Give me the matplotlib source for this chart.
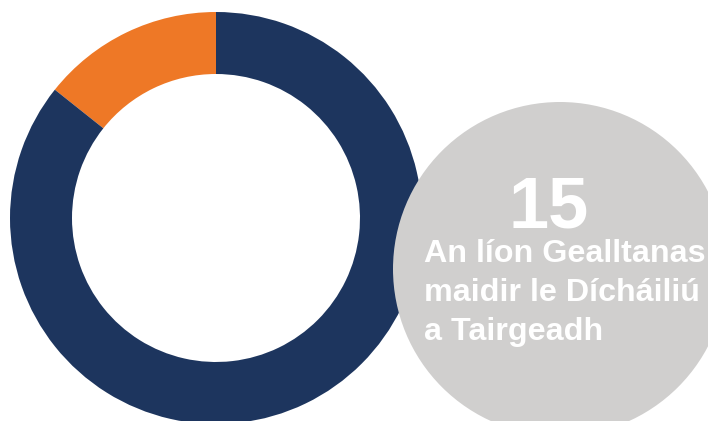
import matplotlib.pyplot as plt
from matplotlib.patches import Circle

# donut shares (orange slice is about 1/7 of the ring)
labels = ['Dícháiliú', 'Eile']
values = [14.3, 85.7]
colors = ['#EE7826', '#1D355E']

big_number = '15'
caption = ['An líon Gealltanas', 'maidir le Dícháiliú', 'a Tairgeadh']

W, H = 708, 421
fig = plt.figure(figsize=(W / 100, H / 100), dpi=100)
ax = fig.add_axes([0, 0, 1, 1])

# donut, centre in pixel space (y measured from bottom)
ax.pie(values, colors=colors, startangle=90, counterclock=True,
       center=(216, H - 218), radius=206,
       wedgeprops=dict(width=62, linewidth=0))

# grey bubble over the right side of the ring, runs off the edges
ax.add_patch(Circle((560, H - 269), 167, facecolor='#D0CFCE',
                    edgecolor='none', zorder=5))

ax.text(549, H - 227, big_number, color='white', fontsize=52,
        fontweight='bold', family='Liberation Sans',
        ha='center', va='baseline', zorder=6)

baselines = [262, 301, 340]
for line, yb in zip(caption, baselines):
    ax.text(424, H - yb, line, color='white', fontsize=23.2,
            fontweight='bold', family='Liberation Sans',
            ha='left', va='baseline', zorder=6)

ax.set_xlim(0, W)
ax.set_ylim(0, H)
ax.set_aspect('equal')
ax.set_axis_off()

fig.savefig('out.png', dpi=100, facecolor='white')
